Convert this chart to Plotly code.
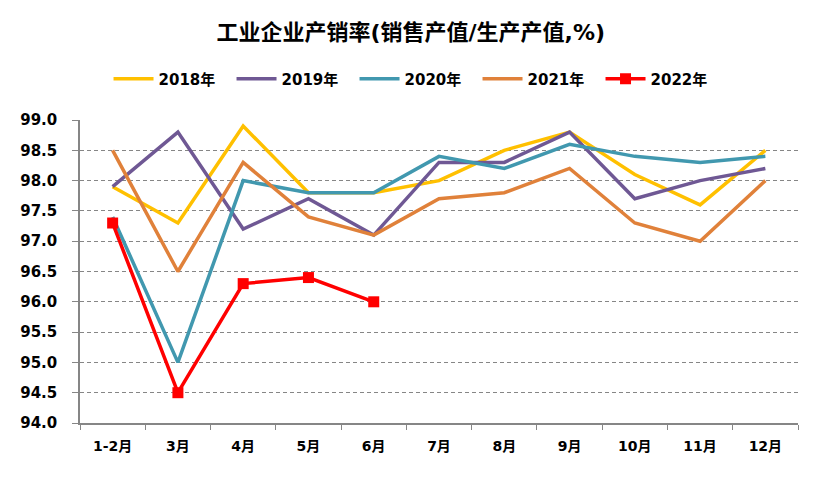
import plotly.graph_objects as go

months = ["1-2月", "3月", "4月", "5月", "6月", "7月", "8月", "9月", "10月", "11月", "12月"]

y2018 = [97.9, 97.3, 98.9, 97.8, 97.8, 98.0, 98.5, 98.8, 98.1, 97.6, 98.5]
y2019 = [97.9, 98.8, 97.2, 97.7, 97.1, 98.3, 98.3, 98.8, 97.7, 98.0, 98.2]
y2020 = [97.4, 95.0, 98.0, 97.8, 97.8, 98.4, 98.2, 98.6, 98.4, 98.3, 98.4]
y2021 = [98.5, 96.5, 98.3, 97.4, 97.1, 97.7, 97.8, 98.2, 97.3, 97.0, 98.0]
y2022 = [97.3, 94.5, 96.3, 96.4, 96.0]

COLORS = {
    "2018年": "#FFC000",
    "2019年": "#6F5894",
    "2020年": "#4198AF",
    "2021年": "#E0813A",
    "2022年": "#FF0000",
}

FONT = "DejaVu Sans, Noto Sans CJK SC, sans-serif"

fig = go.Figure()
for name, ys in [("2018年", y2018), ("2019年", y2019), ("2020年", y2020), ("2021年", y2021)]:
    fig.add_trace(go.Scatter(
        x=months[:len(ys)], y=ys, name=name, mode="lines",
        line=dict(color=COLORS[name], width=3.5),
    ))
fig.add_trace(go.Scatter(
    x=months[:len(y2022)], y=y2022, name="2022年", mode="lines+markers",
    line=dict(color=COLORS["2022年"], width=3.5),
    marker=dict(symbol="square", size=11, color=COLORS["2022年"]),
))

# the page body adds an 8px offset, so margins are shifted to compensate
fig.update_layout(
    width=822, height=489,
    title=dict(text="<b>工业企业产销率(销售产值/生产产值,%)</b>", x=0.49, xanchor="center",
               y=0.95, yanchor="middle", font=dict(family=FONT, size=22, color="black")),
    legend=dict(orientation="h", x=0.468, xanchor="center", y=1.135, yanchor="middle",
                font=dict(family=FONT, size=15, color="black", weight="bold"),
                entrywidth=68, itemwidth=40, tracegroupgap=0),
    font=dict(family=FONT, color="black"),
    plot_bgcolor="white", paper_bgcolor="white",
    margin=dict(l=72, r=32, t=112, b=74),
)
fig.update_xaxes(
    type="category", range=[-0.5, 10.5], tickson="boundaries", ticks="outside", ticklen=5,
    tickcolor="#868686", showline=True, linecolor="#868686", linewidth=1.5, showgrid=False,
    tickfont=dict(family=FONT, size=14, color="black", weight="bold"),
    ticklabelstandoff=9, automargin=False,
)
fig.update_yaxes(
    range=[94, 99], dtick=0.5, tickformat=".1f", ticks="outside", ticklen=6, tickcolor="#868686",
    showline=True, linecolor="#868686", linewidth=1.5,
    showgrid=True, gridcolor="#868686", griddash="4px,3px", gridwidth=1, zeroline=False,
    tickfont=dict(family=FONT, size=15, color="black", weight="bold"),
    ticklabelstandoff=12, automargin=False,
)

fig.write_html("out.html")
